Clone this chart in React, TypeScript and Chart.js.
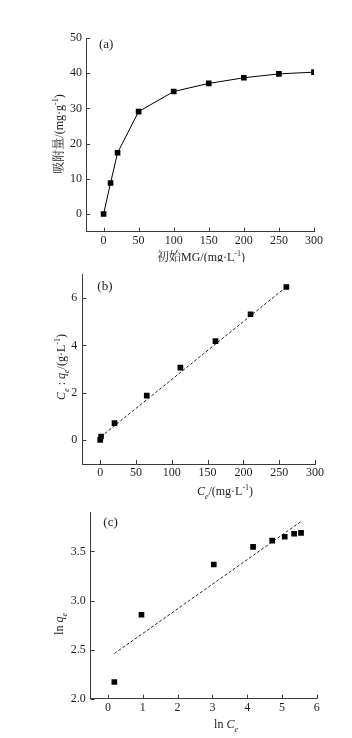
import React, { useEffect, useRef } from 'react';
import { Chart, registerables } from 'chart.js';

Chart.register(...registerables);

// ---------- data ----------
const aInitialConc = [0, 10, 20, 50, 100, 150, 200, 250, 300];
const aAdsorbed = [0, 8.8, 17.4, 29.1, 34.8, 37.1, 38.7, 39.8, 40.3];
const aXTicks = [0, 50, 100, 150, 200, 250, 300];
const aYTicks = [0, 10, 20, 30, 40, 50];

const bCe = [0, 1.2, 20, 65, 112, 161, 210, 260];
const bCeOverQe = [0.02, 0.16, 0.72, 1.88, 3.06, 4.18, 5.31, 6.46];
const bFitX = [1, 263];
const bFitY = [0.15, 6.54];
const bXTicks = [0, 50, 100, 150, 200, 250, 300];
const bYTicks = [0, 2, 4, 6];

const cLnCe = [0.18, 0.96, 3.04, 4.17, 4.72, 5.08, 5.35, 5.55];
const cLnQe = [2.17, 2.855, 3.367, 3.547, 3.61, 3.65, 3.68, 3.69];
const cFitX = [0.18, 5.57];
const cFitY = [2.46, 3.81];
const cXTicks = [0, 1, 2, 3, 4, 5, 6];
const cYTicks = [2.0, 2.5, 3.0, 3.5];

// ---------- style ----------
const SERIF = "'Liberation Serif', 'Times New Roman', 'Noto Serif CJK SC', 'Noto Sans CJK SC', serif";
const TEXT = '#1e1e1e';
const AXIS = '#3a3a3a';
const W = 352;

type Seg = { t: string; i?: boolean; sub?: boolean; sup?: boolean };

function drawRich(ctx: CanvasRenderingContext2D, segs: Seg[], cx: number, cy: number, rotate: boolean, size: number) {
  const small = Math.round(size * 0.68);
  const fontOf = (s: Seg) => `${s.i ? 'italic ' : ''}${s.sub || s.sup ? small : size}px ${SERIF}`;
  let total = 0;
  const widths = segs.map((s) => {
    ctx.font = fontOf(s);
    const w = ctx.measureText(s.t).width;
    total += w;
    return w;
  });
  ctx.save();
  ctx.translate(cx, cy);
  if (rotate) ctx.rotate(-Math.PI / 2);
  ctx.textBaseline = 'alphabetic';
  ctx.textAlign = 'left';
  ctx.fillStyle = TEXT;
  let x = -total / 2;
  const base = size * 0.35;
  segs.forEach((s, k) => {
    ctx.font = fontOf(s);
    const dy = s.sub ? size * 0.3 : s.sup ? -size * 0.4 : 0;
    ctx.fillText(s.t, x, base + dy);
    x += widths[k];
  });
  ctx.restore();
}

const decorPlugin = {
  id: 'decor',
  afterDraw(chart: any, _args: any, opts: any) {
    const ctx: CanvasRenderingContext2D = chart.ctx;
    const { left, top, bottom } = chart.chartArea;
    const xs = chart.scales.x;
    const ys = chart.scales.y;
    ctx.save();
    ctx.strokeStyle = AXIS;
    ctx.lineWidth = 1;
    ctx.beginPath();
    xs.ticks.forEach((t: any) => {
      const px = Math.round(xs.getPixelForValue(t.value)) + 0.5;
      ctx.moveTo(px, bottom);
      ctx.lineTo(px, bottom - 4);
    });
    ys.ticks.forEach((t: any) => {
      const py = Math.round(ys.getPixelForValue(t.value)) + 0.5;
      ctx.moveTo(left, py);
      ctx.lineTo(left + 4, py);
    });
    ctx.stroke();
    ctx.fillStyle = TEXT;
    ctx.font = `13px ${SERIF}`;
    ctx.textAlign = 'left';
    ctx.textBaseline = 'middle';
    ctx.fillText(opts.label, left + opts.labelDx, top + opts.labelDy);
    ctx.restore();
    drawRich(ctx, opts.xTitle, opts.xTitleX, opts.xTitleY, false, 12);
    drawRich(ctx, opts.yTitle, opts.yTitleX, opts.yTitleY, true, 12);
  },
};

type Panel = {
  top: number;
  height: number;
  area: { left: number; right: number; top: number; bottom: number };
  xMin: number; xMax: number; yMin: number; yMax: number;
  xTicks: number[]; yTicks: number[];
  yDecimals: number; yPad: number;
  datasets: any[];
  decor: any;
};

const pts = (xs: number[], ys: number[]) => xs.map((x, i) => ({ x, y: ys[i] }));

const markerSet = (xs: number[], ys: number[], line: boolean) => ({
  data: pts(xs, ys),
  showLine: line,
  borderColor: '#000',
  borderWidth: 1,
  backgroundColor: '#000',
  pointStyle: 'rect',
  pointRadius: 4,
  pointBorderWidth: 0,
  pointBackgroundColor: '#000',
});

const fitSet = (xs: number[], ys: number[]) => ({
  data: pts(xs, ys),
  showLine: true,
  borderColor: '#222',
  borderWidth: 1,
  borderDash: [3, 2],
  pointRadius: 0,
});

const sup = (t: string): Seg => ({ t, sup: true });

const panels: Panel[] = [
  {
    top: 0, height: 262,
    area: { left: 86, right: 314, top: 38, bottom: 231.6 },
    xMin: -25, xMax: 300, yMin: -5, yMax: 50,
    xTicks: aXTicks, yTicks: aYTicks, yDecimals: 0, yPad: 4,
    datasets: [markerSet(aInitialConc, aAdsorbed, true)],
    decor: {
      label: '(a)', labelDx: 13, labelDy: 7,
      xTitle: [{ t: '初始MG/(mg·L' }, sup('-1'), { t: ')' }], xTitleX: 201, xTitleY: 257,
      yTitle: [{ t: '吸附量/(mg·g' }, sup('-1'), { t: ')' }], yTitleX: 59, yTitleY: 134,
    },
  },
  {
    top: 262, height: 238,
    area: { left: 82.3, right: 315, top: 8, bottom: 202 },
    xMin: -25, xMax: 300, yMin: -1, yMax: 7,
    xTicks: bXTicks, yTicks: bYTicks, yDecimals: 0, yPad: 5,
    datasets: [markerSet(bCe, bCeOverQe, false), fitSet(bFitX, bFitY)],
    decor: {
      label: '(b)', labelDx: 15, labelDy: 12.7,
      xTitle: [{ t: 'C', i: true }, { t: 'e', i: true, sub: true }, { t: '/(mg·L' }, sup('-1'), { t: ')' }],
      xTitleX: 225, xTitleY: 229,
      yTitle: [{ t: 'C', i: true }, { t: 'e', i: true, sub: true }, { t: ' : ' }, { t: 'q', i: true }, { t: 'e', i: true, sub: true }, { t: '/(g·L' }, sup('-1'), { t: ')' }],
      yTitleX: 61, yTitleY: 105,
    },
  },
  {
    top: 500, height: 238,
    area: { left: 90.7, right: 316.7, top: 8.3, bottom: 198.7 },
    xMin: -0.5, xMax: 6, yMin: 2.0, yMax: 3.9,
    xTicks: cXTicks, yTicks: cYTicks, yDecimals: 1, yPad: 5,
    datasets: [markerSet(cLnCe, cLnQe, false), fitSet(cFitX, cFitY)],
    decor: {
      label: '(c)', labelDx: 12.6, labelDy: 10,
      xTitle: [{ t: 'ln ' }, { t: 'C', i: true }, { t: 'e', i: true, sub: true }], xTitleX: 226, xTitleY: 224,
      yTitle: [{ t: 'ln ' }, { t: 'q', i: true }, { t: 'e', i: true, sub: true }], yTitleX: 59, yTitleY: 124,
    },
  },
];

function PanelChart({ p }: { p: Panel }) {
  const ref = useRef<HTMLCanvasElement | null>(null);
  useEffect(() => {
    if (!ref.current) return;
    const tickFont = { family: SERIF, size: 12 };
    const chart = new Chart(ref.current, {
      type: 'scatter',
      data: { datasets: p.datasets },
      plugins: [decorPlugin as any],
      options: {
        responsive: false,
        animation: false,
        devicePixelRatio: 1,
        layout: { padding: { left: 0, right: W - p.area.right, top: p.area.top, bottom: 0 } },
        plugins: {
          legend: { display: false },
          tooltip: { enabled: false },
          decor: p.decor,
        } as any,
        scales: {
          x: {
            type: 'linear',
            min: p.xMin,
            max: p.xMax,
            afterBuildTicks: (s: any) => { s.ticks = p.xTicks.map((v) => ({ value: v })); },
            afterFit: (s: any) => { s.height = p.height - p.area.bottom; },
            grid: { display: false, drawTicks: false },
            border: { display: true, color: AXIS, width: 1 },
            ticks: {
              font: tickFont, color: TEXT, padding: 2, maxRotation: 0, autoSkip: false,
              callback: (v: any) => String(v),
            },
          },
          y: {
            type: 'linear',
            min: p.yMin,
            max: p.yMax,
            afterBuildTicks: (s: any) => { s.ticks = p.yTicks.map((v) => ({ value: v })); },
            afterFit: (s: any) => { s.width = p.area.left; },
            grid: { display: false, drawTicks: false },
            border: { display: true, color: AXIS, width: 1 },
            ticks: {
              font: tickFont, color: TEXT, padding: p.yPad, autoSkip: false,
              callback: (v: any) => Number(v).toFixed(p.yDecimals),
            },
          },
        },
      } as any,
    });
    return () => chart.destroy();
  }, [p]);
  return (
    <div style={{ position: 'absolute', left: 0, top: p.top, width: W, height: p.height }}>
      <canvas ref={ref} width={W} height={p.height} style={{ width: W, height: p.height, display: 'block' }} />
    </div>
  );
}

export default function App() {
  return (
    <div style={{ position: 'absolute', left: 0, top: 0, width: W, height: 738, background: '#fff' }}>
      {panels.map((p, i) => (
        <PanelChart key={i} p={p} />
      ))}
    </div>
  );
}
